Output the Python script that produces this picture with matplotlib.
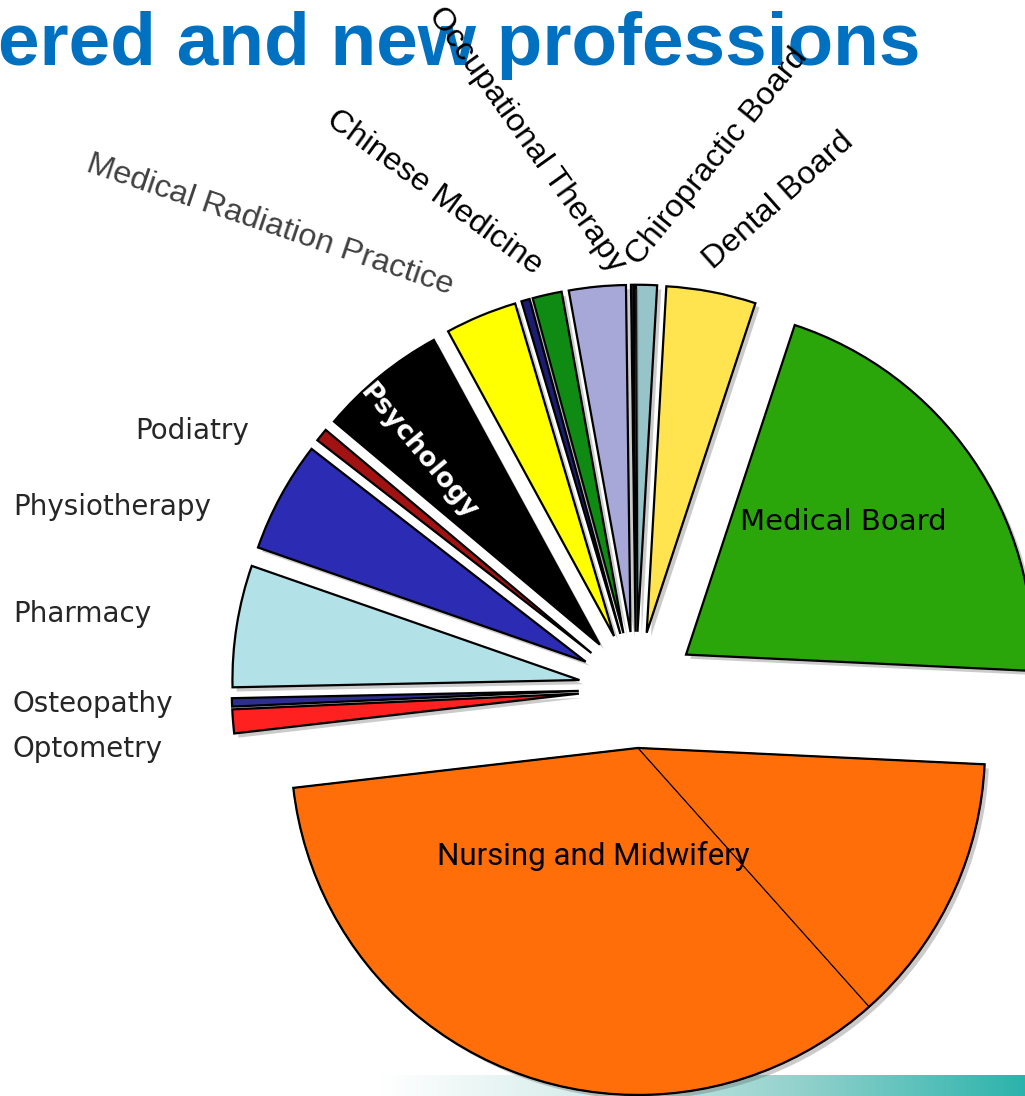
import numpy as np
import matplotlib.pyplot as plt
import matplotlib.patheffects as pe
from matplotlib import font_manager
from matplotlib.patches import Wedge
from matplotlib.colors import LinearSegmentedColormap

W, H = 1025, 1096

# slice sizes in degrees (counter-clockwise from Medical Board)
professions = ['Medical Board', 'Dental Board', 'Chiropractic Board', '',
               'Occupational Therapy', 'Chinese Medicine', '',
               'Medical Radiation Practice', 'Psychology', 'Podiatry',
               'Physiotherapy', 'Pharmacy', 'Osteopathy', 'Optometry',
               'Nursing and Midwifery', '']
share = [74.4, 15.0, 3.5, 0.5, 9.5, 4.9, 1.4, 12.0, 21.4, 2.2,
         18.6, 20.4, 1.4, 4.0, 125.1, 45.5]
colors = ['#2aa50a', '#ffe44f', '#96c4c9', '#1b1b2a', '#a8a8d8', '#0f8a12',
          '#1c1c70', '#ffff00', '#000000', '#a31212', '#2b2bb3', '#b2e2e8',
          '#2e2e8e', '#ff2020', '#ff6e08', '#ff6e08']
explode = [0.175, 0.165, 0.165, 0.165, 0.165, 0.165, 0.165, 0.165, 0.165,
           0.165, 0.165, 0.165, 0.165, 0.165, 0.0, 0.0]
nursing_explode = 0.17

R = 347
CX, CY = 636, 689

def py(y):
    return H - y

installed = {f.name for f in font_manager.fontManager.ttflist}
narrow = next((f for f in ['Liberation Sans Narrow', 'DejaVu Sans Condensed', 'Roboto']
               if f in installed), 'DejaVu Sans')

fig = plt.figure(figsize=(W / 100, H / 100), dpi=100)
ax = fig.add_axes([0, 0, 1, 1])

# footer band of the slide
grad = np.linspace(0, 1, 256)[None, :]
band = LinearSegmentedColormap.from_list('band', ['#ffffff', '#d4ecea', '#8fd0cb', '#2bb3ab'])
ax.imshow(grad, extent=[380, W, 0, 21], cmap=band, aspect='auto', zorder=0)

# pie explode works in data units, so scale by the radius
wedges, _ = ax.pie(share, colors=colors, startangle=-2.7, counterclock=True,
                   explode=[e * R for e in explode], radius=R, center=(CX, py(CY)),
                   wedgeprops=dict(edgecolor='black', linewidth=1.6))
for w in wedges:
    w.set_zorder(2)
    w.set_path_effects([pe.SimplePatchShadow(offset=(3, -3), shadow_rgbFace='#555555',
                                             alpha=0.3), pe.Normal()])

# nursing is two parts pulled out together, with a thin dividing line
wa, wb = wedges[-2], wedges[-1]
mid = np.deg2rad((wa.theta1 + wb.theta2) / 2)
shift = (CX + nursing_explode * R * np.cos(mid), py(CY) + nursing_explode * R * np.sin(mid))
for w in (wa, wb):
    w.set_center(shift)
    w.set_linewidth(0.8)
ax.add_patch(Wedge(shift, wa.r, wa.theta1, wb.theta2, fill=False,
                   edgecolor='black', linewidth=1.6, zorder=3))

ax.set_xlim(0, W)
ax.set_ylim(0, H)
ax.set_aspect('equal')
ax.axis('off')

# title (cut off at the left edge of the slide)
ax.text(-2, py(65), 'ered and new professions', fontsize=53.8, fontweight='bold',
        color='#0070c0', family='Liberation Sans', ha='left', va='baseline', zorder=1)

# rotated labels above the pie
top_labels = ['Medical Radiation Practice', 'Chinese Medicine', 'Occupational Therapy',
              'Chiropractic Board', 'Dental Board']
top_xy = [(270, 225), (434, 193), (527, 140), (717, 157), (779, 201)]
top_rot = [-18.7, -36, -54.5, 51, 41.7]
top_col = ['#404040', 'black', 'black', 'black', 'black']
for t, (x, y), r, c in zip(top_labels, top_xy, top_rot, top_col):
    ax.text(x, py(y), t, rotation=r, rotation_mode='anchor', ha='center', va='center',
            fontsize=23.4, family='Liberation Sans', color=c, zorder=4)

# labels at the left
left_labels = ['Podiatry', 'Physiotherapy', 'Pharmacy', 'Osteopathy', 'Optometry']
left_xy = [(135, 439), (13, 515), (13, 622), (13, 712), (13, 757)]
for t, (x, y) in zip(left_labels, left_xy):
    ax.text(x, py(y), t, ha='left', va='baseline', fontsize=20,
            family='DejaVu Sans', color='#262626', zorder=4)

ax.text(418, py(452), 'Psychology', rotation=-50, rotation_mode='anchor', ha='center',
        va='center', fontsize=19, fontweight='bold', family='DejaVu Sans',
        color='white', zorder=4)
ax.text(843, py(530), 'Medical Board', ha='center', va='baseline', fontsize=21,
        family='DejaVu Sans', color='black', zorder=4)
nfs = 26 if narrow == 'Liberation Sans Narrow' else (23 if narrow == 'DejaVu Sans Condensed' else 22.5)
ax.text(593, py(865), 'Nursing and Midwifery', ha='center', va='baseline', fontsize=nfs,
        family=narrow, color='black', zorder=4)

fig.savefig('out.png', dpi=100)
